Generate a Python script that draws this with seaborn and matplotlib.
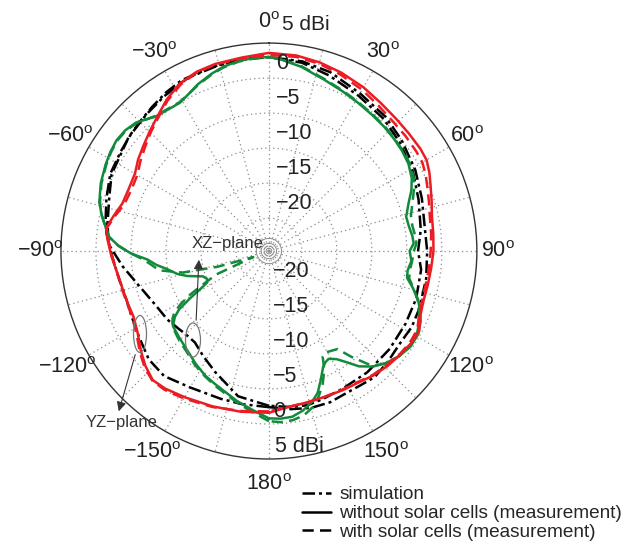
import numpy as np
import matplotlib
matplotlib.use('Agg')
import matplotlib.pyplot as plt
import seaborn as sns
from matplotlib.lines import Line2D
from matplotlib.patches import Ellipse

sns.set_theme(style='white')
plt.rcParams['font.family'] = ['Liberation Sans', 'DejaVu Sans']
plt.rcParams['mathtext.fontset'] = 'custom'
plt.rcParams['mathtext.rm'] = 'Liberation Sans'

# radial range (dB)
RMIN, RMAX = -24.7, 5.0

# YZ-plane, measurement (red)
yz_ang = [-180, -170, -160, -150, -143, -138, -133, -128, -122, -116,
          -110, -104, -98, -92, -86, -82, -77, -72, -66, -60,
          -55, -50, -45, -40, -34, -28, -22, -16, -8, 0,
          8, 15, 22, 30, 37, 44, 50, 56, 60, 64,
          68, 73, 78, 84, 90, 96, 102, 108, 113, 118,
          123, 128, 134, 140, 146, 152, 159, 166, 172, 180]
yz_without = [-1.6, -1.4, -1.1, -0.6, -0.1, 0.1, -0.6, -1.5, -2.6, -3.2,
              -3.2, -3.1, -2.8, -2.2, -1.6, -1.2, -2.0, -2.7, -2.8, -2.6,
              -1.9, -1.3, -0.6, 0.2, 1.4, 2.4, 2.9, 3.1, 3.2, 3.6,
              3.5, 3.2, 2.8, 2.3, 1.8, 1.5, 1.4, 1.4, 1.3, 0.8,
              0.2, -0.4, -0.9, -1.1, -1.2, -1.4, -1.5, -1.5, -1.2, -0.4,
              -0.5, -0.8, -1.1, -1.5, -2.0, -2.2, -2.4, -2.4, -2.3, -1.6]
yz_with = [-1.8, -1.5, -1.0, -0.4, 0.1, 0.2, -0.4, -1.3, -2.4, -3.0,
           -3.1, -3.0, -2.8, -2.3, -1.7, -1.3, -2.2, -3.0, -3.2, -3.0,
           -2.3, -1.6, -0.8, 0.0, 1.2, 2.2, 2.8, 3.0, 3.1, 3.3,
           3.3, 3.0, 2.5, 1.9, 1.3, 0.9, 0.8, 0.7, 0.6, 0.2,
           -0.3, -0.8, -1.2, -1.4, -1.6, -1.7, -1.8, -1.7, -1.4, -0.7,
           -0.7, -0.9, -1.3, -1.6, -2.1, -2.3, -2.4, -2.4, -2.3, -1.8]

# XZ-plane, measurement (green)
xz_ang = [-180, -174, -168, -163, -158, -153, -147, -140, -134, -128,
          -125, -123, -121, -119, -117, -114, -111, -107, -104, -100,
          -97, -94, -91, -88, -85, -82, -78, -74, -68, -62,
          -58, -54, -50, -46, -43, -40, -35, -31, -27, -23,
          -18, -14, -9, -4, 0, 3, 10, 18, 25, 31,
          37, 43, 48, 53, 58, 63, 67, 71, 76, 80,
          84, 87, 90, 94, 98, 101, 104, 108, 112, 115,
          119, 124, 129, 134, 138, 142, 145, 148, 151, 153,
          155, 158, 161, 164, 168, 172, 176, 180]
xz_without = [-0.8, -1.9, -2.8, -3.6, -4.2, -4.7, -5.5, -6.4, -6.9, -7.3,
              -8.3, -9.4, -11.5, -13.5, -14.8, -15.0, -14.6, -12.5, -11.2, -9.9,
              -8.5, -7.3, -5.0, -3.2, -1.8, -1.2, -0.3, 0.5, 1.2, 1.7,
              2.0, 2.2, 2.1, 1.7, 1.0, 0.4, 0.1, 0.0, 0.5, 1.2,
              1.9, 2.4, 2.8, 3.0, 3.0, 2.8, 2.0, 1.0, 0.4, 0.0,
              -0.3, -0.5, -0.7, -0.9, -1.2, -1.8, -2.6, -3.6, -4.5, -4.4,
              -4.1, -4.0, -4.6, -4.3, -4.7, -4.6, -3.6, -2.3, -1.4, -0.8,
              -0.3, -0.3, -0.8, -1.6, -2.5, -3.8, -5.3, -6.5, -7.1, -6.9,
              -6.4, -4.9, -3.3, -2.3, -1.4, -0.8, -0.7, -0.8]
xz_with = [-0.4, -1.6, -2.6, -3.4, -4.0, -4.6, -5.3, -6.2, -6.7, -7.2,
           -7.9, -8.6, -10.0, -11.8, -14.0, -16.5, -22.3, -17.0, -12.0, -8.8,
           -7.9, -6.8, -5.0, -3.2, -1.8, -1.2, -0.3, 0.4, 1.1, 1.6,
           1.9, 2.1, 2.0, 1.6, 1.0, 0.5, 0.2, 0.1, 0.5, 1.1,
           1.8, 2.3, 2.7, 2.9, 3.0, 2.8, 2.1, 1.1, 0.5, 0.1,
           -0.2, -0.4, -0.6, -0.8, -1.0, -1.5, -2.2, -3.0, -3.8, -3.9,
           -3.7, -3.6, -4.0, -4.2, -4.4, -4.3, -3.5, -2.4, -1.6, -1.0,
           -0.5, -0.4, -0.8, -1.6, -2.6, -5.5, -7.6, -7.9, -8.1, -7.8,
           -6.0, -4.2, -2.8, -1.6, -0.7, -0.3, -0.2, -0.4]

# simulations (black)
sim_yz_ang = [-180, -170, -162, -150, -140, -132, -123, -115, -109, -100,
              -92, -86, -80, -71, -64, -58, -51, -45, -39, -33,
              -27, -17, -8, 0, 10, 19, 30, 41, 50, 61,
              71, 82, 90, 100, 111, 118, 125, 133, 140, 146,
              151, 158, 165, 172, 180]
sim_yz = [-2.4, -2.5, -2.5, -2.2, -1.4, -1.6, -2.5, -3.0, -3.2, -2.9,
          -2.3, -1.7, -1.3, -0.6, 0.3, 0.5, 1.1, 1.4, 1.8, 2.3,
          2.7, 2.8, 2.9, 3.0, 2.8, 2.3, 1.3, 0.7, 0.0, -0.8,
          -1.6, -2.2, -2.1, -1.9, -1.7, -1.6, -1.8, -1.5, -1.2, -1.5,
          -1.6, -1.4, -1.5, -1.9, -2.4]
sim_xz_ang = [-180, -168, -156, -148, -141, -135, -131, -124, -116, -110,
              -105, -100, -96, -88, -84, -80, -72, -64, -56, -50,
              -42, -34, -25, -15, -6, 0, 10, 19, 30, 41,
              50, 61, 71, 82, 90, 97, 108, 118, 129, 141,
              152, 160, 166, 172, 180]
sim_xz = [-2.6, -3.5, -5.8, -7.0, -7.9, -7.9, -7.7, -7.2, -6.8, -6.2,
          -5.5, -4.6, -3.7, -1.9, -1.4, -1.0, -0.3, 0.5, 0.8, 1.1,
          1.5, 2.0, 2.6, 2.8, 3.0, 3.0, 2.6, 1.8, 0.9, 0.3,
          -0.4, -1.2, -2.1, -2.8, -3.4, -2.8, -2.6, -2.6, -2.5, -2.4,
          -2.4, -2.2, -2.0, -2.2, -2.6]

angle_ticks = [0, 30, 60, 90, 120, 150, 180, -150, -120, -90, -60, -30]
r_ticks = [-20, -15, -10, -5, 0]

RED = '#ec1c24'
GREEN = '#128a3c'
SIM_DASH = (0, (5, 1.6, 1.2, 1.6))
MEAS_DASH = (0, (4.5, 2.5))

W, H = 635, 543
fig = plt.figure(figsize=(W / 100, H / 100), dpi=100)
ax = fig.add_axes([0.096, 0.1547, 0.655, 0.766], projection='polar')
ax.set_theta_zero_location('N')
ax.set_theta_direction(-1)
ax.set_ylim(RMIN, RMAX)

# grid
ax.set_rgrids(r_ticks, labels=[])
ax.set_thetagrids(np.arange(0, 360, 15), labels=[])
ax.grid(True, color='#8c8c8c', linestyle=(0, (1, 2.5)), linewidth=0.9)
ax.spines['polar'].set_color('#333333')
ax.spines['polar'].set_linewidth(1.0)
ax.set_facecolor('white')
th = np.linspace(0, 2 * np.pi, 200)
for rr in [-24.3, -23.6, -22.9]:
    ax.plot(th, np.full_like(th, rr), color='#8c8c8c', lw=0.7)

def draw(ang, vals, color, ls):
    sns.lineplot(x=np.deg2rad(ang), y=vals, ax=ax, sort=False, estimator=None,
                 color=color, linewidth=1.8, linestyle=ls)

draw(sim_xz_ang, sim_xz, 'black', SIM_DASH)
draw(sim_yz_ang, sim_yz, 'black', SIM_DASH)
draw(xz_ang, xz_with, GREEN, MEAS_DASH)
draw(xz_ang, xz_without, GREEN, '-')
draw(yz_ang, yz_with, RED, MEAS_DASH)
draw(yz_ang, yz_without, RED, '-')
ax.set_xlabel('')
ax.set_ylabel('')

# angle labels
for a in angle_ticks:
    s = str(a).replace('-', '\u2212') + r'$^{\mathrm{o}}$'
    rr = 8.6 if abs(a) >= 120 else 8.0
    ax.text(np.deg2rad(a), rr, s, ha='center', va='center', fontsize=15.5,
            color='#222222', clip_on=False)

# radial labels along 0 and 180 degrees
for v in r_ticks:
    s = str(v).replace('-', '\u2212')
    ax.annotate(s, xy=(0, v), xytext=(7, 15), textcoords='offset pixels',
                ha='left', va='center', fontsize=15.5, color='#222222')
    ax.annotate(s, xy=(np.pi, v), xytext=(4, 12), textcoords='offset pixels',
                ha='left', va='center', fontsize=15.5, color='#222222')
ax.annotate('5 dBi', xy=(0, RMAX), xytext=(13, 19), textcoords='offset pixels',
            ha='left', va='center', fontsize=15, color='#222222', annotation_clip=False)
ax.annotate('5 dBi', xy=(np.pi, RMAX), xytext=(6, 12), textcoords='offset pixels',
            ha='left', va='center', fontsize=15.5, color='#222222', annotation_clip=False)

# plane markers
def fx(x):
    return x / W

def fy(y):
    return 1 - y / H

fig.add_artist(Ellipse((fx(193), fy(340)), 15 / W, 34 / H, transform=fig.transFigure,
                       fill=False, edgecolor='#777777', lw=0.9))
fig.add_artist(Ellipse((fx(140), fy(334)), 13 / W, 37 / H, transform=fig.transFigure,
                       fill=False, edgecolor='#777777', lw=0.9))
ax.annotate('', xy=(fx(199), fy(257)), xytext=(fx(196), fy(323)), xycoords='figure fraction',
            textcoords='figure fraction',
            arrowprops=dict(arrowstyle='-|>', color='#333333', lw=0.8, mutation_scale=14))
ax.annotate('', xy=(fx(118), fy(414)), xytext=(fx(136), fy(352)), xycoords='figure fraction',
            textcoords='figure fraction',
            arrowprops=dict(arrowstyle='-|>', color='#333333', lw=0.8, mutation_scale=14))
fig.text(fx(228), fy(243), 'XZ\u2212plane', ha='center', va='center', fontsize=12,
         color='#333333')
fig.text(fx(122), fy(423), 'YZ\u2212plane', ha='center', va='center', fontsize=12,
         color='#333333')

# legend
handles = [Line2D([], [], color='black', lw=1.8, linestyle=SIM_DASH),
           Line2D([], [], color='black', lw=1.8, linestyle='-'),
           Line2D([], [], color='black', lw=1.8, linestyle=MEAS_DASH)]
labels = ['simulation', 'without solar cells (measurement)', 'with solar cells (measurement)']
fig.legend(handles, labels, loc='upper left', bbox_to_anchor=(fx(302), fy(486)),
           frameon=False, fontsize=13.7, handlelength=1.5, handletextpad=0.45,
           labelspacing=0.08, borderpad=0, borderaxespad=0)

fig.savefig('out.png', dpi=100, facecolor='white')
